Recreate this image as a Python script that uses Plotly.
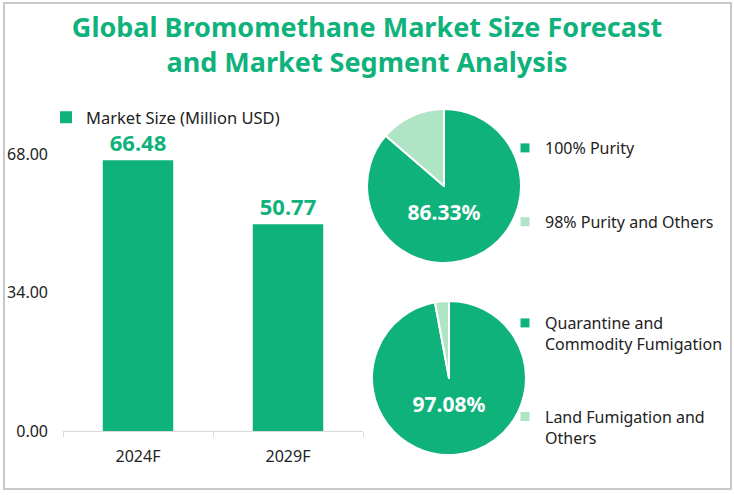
import plotly.graph_objects as go

W, H = 734, 495

# ---- data ----
title_lines = ["Global Bromomethane Market Size Forecast", "and Market Segment Analysis"]
years = ["2024F", "2029F"]
market_size = [66.48, 50.77]
bar_series_name = "Market Size (Million USD)"
y_ticks = [0, 34, 68]

purity_labels = ["100% Purity", "98% Purity and Others"]
purity_shares = [86.33, 13.67]
app_labels = ["Quarantine and<br>Commodity Fumigation", "Land Fumigation and<br>Others"]
app_shares = [97.08, 2.92]

GREEN = "#10B27C"
LIGHT = "#AFE4C4"
FONT = "Noto Sans"
TXT = "#222222"


def fx(x):
    return x / W


def fy(y):
    return 1 - y / H


fig = go.Figure()

fig.add_trace(go.Bar(
    x=years, y=market_size, width=0.47, name=bar_series_name,
    marker=dict(color=GREEN, line=dict(width=0)),
    text=[f"{v:.2f}" for v in market_size], textposition="outside",
    textfont=dict(size=22, color=GREEN, family=FONT, weight="bold"),
    cliponaxis=False, legend="legend", showlegend=True,
))


def add_pie(labels, values, cx, cy, r):
    fig.add_trace(go.Pie(
        labels=labels, values=values, sort=False, direction="clockwise", rotation=0,
        domain=dict(x=[fx(cx - r), fx(cx + r)], y=[fy(cy + r), fy(cy - r)]),
        marker=dict(colors=[GREEN, LIGHT], line=dict(color="white", width=2)),
        text=[f"{values[0]:.2f}%", ""], textinfo="text", textposition="inside",
        insidetextorientation="horizontal",
        textfont=dict(color="white", size=21, family=FONT, weight="bold"),
        showlegend=False, hoverinfo="label+value",
    ))


add_pie(purity_labels, purity_shares, 444, 186, 77)
add_pie(app_labels, app_shares, 449, 378, 77)

# legend entries for the pies
for lg, labels in (("legend2", purity_labels), ("legend3", app_labels)):
    for i, (lab, col) in enumerate(zip(labels, [GREEN, LIGHT])):
        fig.add_trace(go.Scatter(
            x=[None], y=[None], mode="markers", name=lab,
            marker=dict(symbol="square", size=9, color=col),
            legend=lg, legendgroup=f"{lg}_{i}", showlegend=True, hoverinfo="skip",
        ))

legend_font = dict(family=FONT, size=16, color=TXT)

fig.update_layout(
    width=W, height=H, autosize=False,
    margin=dict(l=0, r=0, t=0, b=0, pad=0, autoexpand=False),
    paper_bgcolor="white", plot_bgcolor="white",
    font=dict(family=FONT, size=15, color=TXT),
    title=dict(
        text="<br>".join(title_lines), x=0.5, xanchor="center",
        y=fy(37), yanchor="middle", automargin=False,
        font=dict(family=FONT, size=27, color=GREEN, weight="bold"),
    ),
    xaxis=dict(
        domain=[fx(63), fx(363)], range=[-0.5, 1.5], type="category",
        showline=True, linecolor="#d9d9d9", linewidth=1,
        ticks="outside", tickson="boundaries", ticklen=5, tickcolor="#d9d9d9",
        tickfont=dict(size=16, color=TXT), ticklabelstandoff=11,
        showgrid=False, zeroline=False, fixedrange=True, automargin=False,
    ),
    yaxis=dict(
        domain=[fy(431), fy(154)], range=[0, 68], tickvals=y_ticks, tickformat=".2f",
        showgrid=False, zeroline=False, showline=False, ticks="",
        tickfont=dict(size=16, color=TXT), ticklabelstandoff=14, fixedrange=True,
        automargin=False,
    ),
    legend=dict(
        x=fx(46), y=fy(100), xanchor="left", yanchor="top", orientation="h",
        font=dict(family=FONT, size=16.5, color=TXT), bgcolor="rgba(0,0,0,0)", itemwidth=30,
    ),
    legend2=dict(
        x=fx(505), y=fy(131), xanchor="left", yanchor="top",
        font=legend_font, bgcolor="rgba(0,0,0,0)", itemwidth=30, tracegroupgap=50,
    ),
    legend3=dict(
        x=fx(505), y=fy(306), xanchor="left", yanchor="top", valign="top",
        font=legend_font, bgcolor="rgba(0,0,0,0)", itemwidth=30, tracegroupgap=49,
    ),
    shapes=[dict(
        type="rect", xref="paper", yref="paper",
        x0=fx(4), x1=fx(731), y0=fy(489), y1=fy(3),
        line=dict(color="#c8c8c8", width=2), layer="below",
    )],
)

fig.write_html(
    "out.html",
    config={"displayModeBar": False},
    post_script="document.body.style.margin='0px';document.body.style.overflow='hidden';",
)
